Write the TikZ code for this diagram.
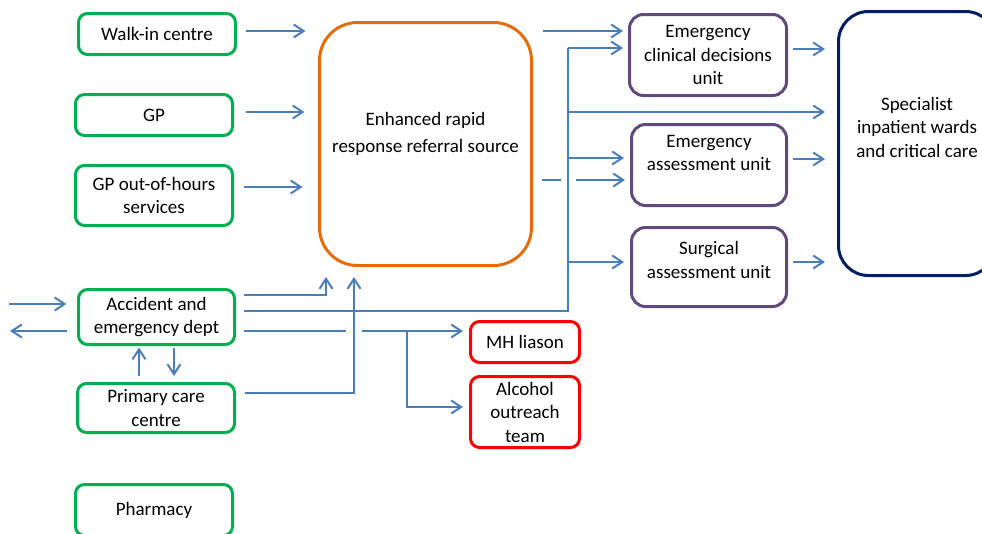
\documentclass[tikz,border=0pt]{standalone}
\usepackage{fontspec}
\setmainfont{Carlito}
\usetikzlibrary{arrows.meta}
\definecolor{cgreen}{RGB}{0,176,80}
\definecolor{corange}{RGB}{228,108,10}
\definecolor{cpurple}{RGB}{96,74,123}
\definecolor{cnavy}{RGB}{0,32,96}
\definecolor{cred}{RGB}{255,0,0}
\definecolor{cblue}{RGB}{74,126,187}
\tikzset{
  txt/.style={align=center, font=\fontsize{19}{23.5}\selectfont, inner sep=0pt},
  box/.style={txt, draw, line width=3pt, rounded corners=9pt, fill=white, outer sep=0pt},
  gbox/.style={box, draw=cgreen},
  pbox/.style={box, draw=cpurple, rounded corners=14pt},
  rbox/.style={box, draw=cred},
  ln/.style={draw=cblue, line width=2pt},
  arr/.style={ln, -{Straight Barb[length=10pt,width=13pt]}},
}
\begin{document}
\begin{tikzpicture}[x=1pt,y=-1pt]
\useasboundingbox (0,0) rectangle (982,533);
% left column
\node[gbox, minimum width=157pt, minimum height=41pt] (walk) at (157,34) {Walk-in centre};
\node[gbox, minimum width=157pt, minimum height=41pt] (gp) at (154,115) {GP};
\node[gbox, minimum width=157pt, minimum height=60pt] (gpooh) at (154,195.5) {GP out-of-hours\\services};
\node[gbox, minimum width=156pt, minimum height=55pt] (ae) at (156.5,317) {Accident and\\emergency dept};
\node[gbox, minimum width=157pt, minimum height=49pt] (pcc) at (156,408) {Primary care\\centre};
\node[gbox, minimum width=157pt, minimum height=51pt] (pharm) at (154,510) {Pharmacy};
% centre
\node[box, draw=corange, rounded corners=38pt, minimum width=212pt, minimum height=243pt,
  label={[txt, font=\fontsize{19}{27}\selectfont, yshift=10.5pt]center:Enhanced rapid\\response referral source}] (errrs) at (425.5,144) {};
\node[rbox, minimum width=109pt, minimum height=41pt] (mh) at (525,342) {MH liason};
\node[rbox, minimum width=109pt, minimum height=71pt] (alc) at (525,412) {Alcohol\\outreach\\team};
% units
\node[pbox, minimum width=157pt, minimum height=81pt] (ecdu) at (708,55) {Emergency\\clinical decisions\\unit};
\node[pbox, minimum width=155pt, minimum height=81pt,
  label={[txt, yshift=12pt]center:Emergency\\assessment unit}] (eau) at (709,165) {};
\node[pbox, minimum width=155pt, minimum height=79pt,
  label={[txt, yshift=7pt]center:Surgical\\assessment unit}] (sau) at (709,267) {};
\node[box, draw=cnavy, rounded corners=30pt, minimum width=157pt, minimum height=264pt,
  label={[txt, yshift=16.5pt]center:Specialist\\inpatient wards\\and critical care}] (spec) at (917,143.5) {};
% free ends
\coordinate (inL) at (9,304);
\coordinate (outL) at (10,331);
\coordinate (busTop) at (568,48);
\coordinate (busBot) at (568,311);
\coordinate (gapA) at (561,180);
\coordinate (gapB) at (576,180);
\coordinate (gapC) at (346,331);
\coordinate (gapD) at (362,331);
\coordinate (br) at (407,331);
% inputs to ERRRS
\draw[arr, shorten <=10pt, shorten >=14pt] (walk.east |- 0,31) -- (errrs.west |- 0,31);
\draw[arr, shorten <=13pt, shorten >=15pt] (gp.east |- 0,112) -- (errrs.west |- 0,112);
\draw[arr, shorten <=11pt, shorten >=17pt] (gpooh.east |- 0,187) -- (errrs.west |- 0,187);
\draw[arr, shorten <=9pt, shorten >=11.5pt] (ae.east |- 0,295) -| (326,0 |- errrs.south);
\draw[arr, shorten <=10pt, shorten >=11.5pt] (pcc.east |- 0,393) -| (354,0 |- errrs.south);
% A&E left
\draw[arr, shorten >=12pt] (inL) -- (ae.west |- inL);
\draw[arr, shorten <=12pt] (ae.west |- outL) -- (outL);
% A&E <-> primary care
\draw[arr, shorten <=7.5pt, shorten >=3pt] (139,0 |- pcc.north) -- (139,0 |- ae.south);
\draw[arr, shorten <=3.5pt, shorten >=7.5pt] (174,0 |- ae.south) -- (174,0 |- pcc.north);
% A&E bus to units
\draw[ln, shorten <=9pt] (ae.east |- busBot) -- (busBot) -- (busTop);
\draw[arr, shorten >=6.5pt] (busTop) -- (ecdu.west |- busTop);
\draw[arr, shorten >=13.5pt] (busTop |- 0,112) -- (spec.west |- 0,112);
\draw[arr, shorten >=7.5pt] (busTop |- 0,158) -- (eau.west |- 0,158);
\draw[arr, shorten >=7.5pt] (busTop |- 0,262) -- (sau.west |- 0,262);
% ERRRS to units
\draw[arr, shorten <=11.5pt, shorten >=6.5pt] (errrs.east |- 0,31) -- (ecdu.west |- 0,31);
\draw[ln, shorten <=10.5pt] (errrs.east |- gapA) -- (gapA);
\draw[arr, shorten >=6.5pt] (gapB) -- (eau.west |- gapB);
% units to specialist
\draw[arr, shorten <=6.5pt, shorten >=13.5pt] (ecdu.east |- 0,49) -- (spec.west |- 0,49);
\draw[arr, shorten <=6.5pt, shorten >=13.5pt] (eau.east |- 0,159) -- (spec.west |- 0,159);
\draw[arr, shorten <=6.5pt, shorten >=13.5pt] (sau.east |- 0,262) -- (spec.west |- 0,262);
% A&E to MH and alcohol
\draw[ln, shorten <=9pt] (ae.east |- gapC) -- (gapC);
\draw[arr, shorten >=7.5pt] (gapD) -- (mh.west |- gapD);
\draw[arr, shorten >=7.5pt] (br) |- (alc.west |- 0,407);
\end{tikzpicture}
\end{document}
